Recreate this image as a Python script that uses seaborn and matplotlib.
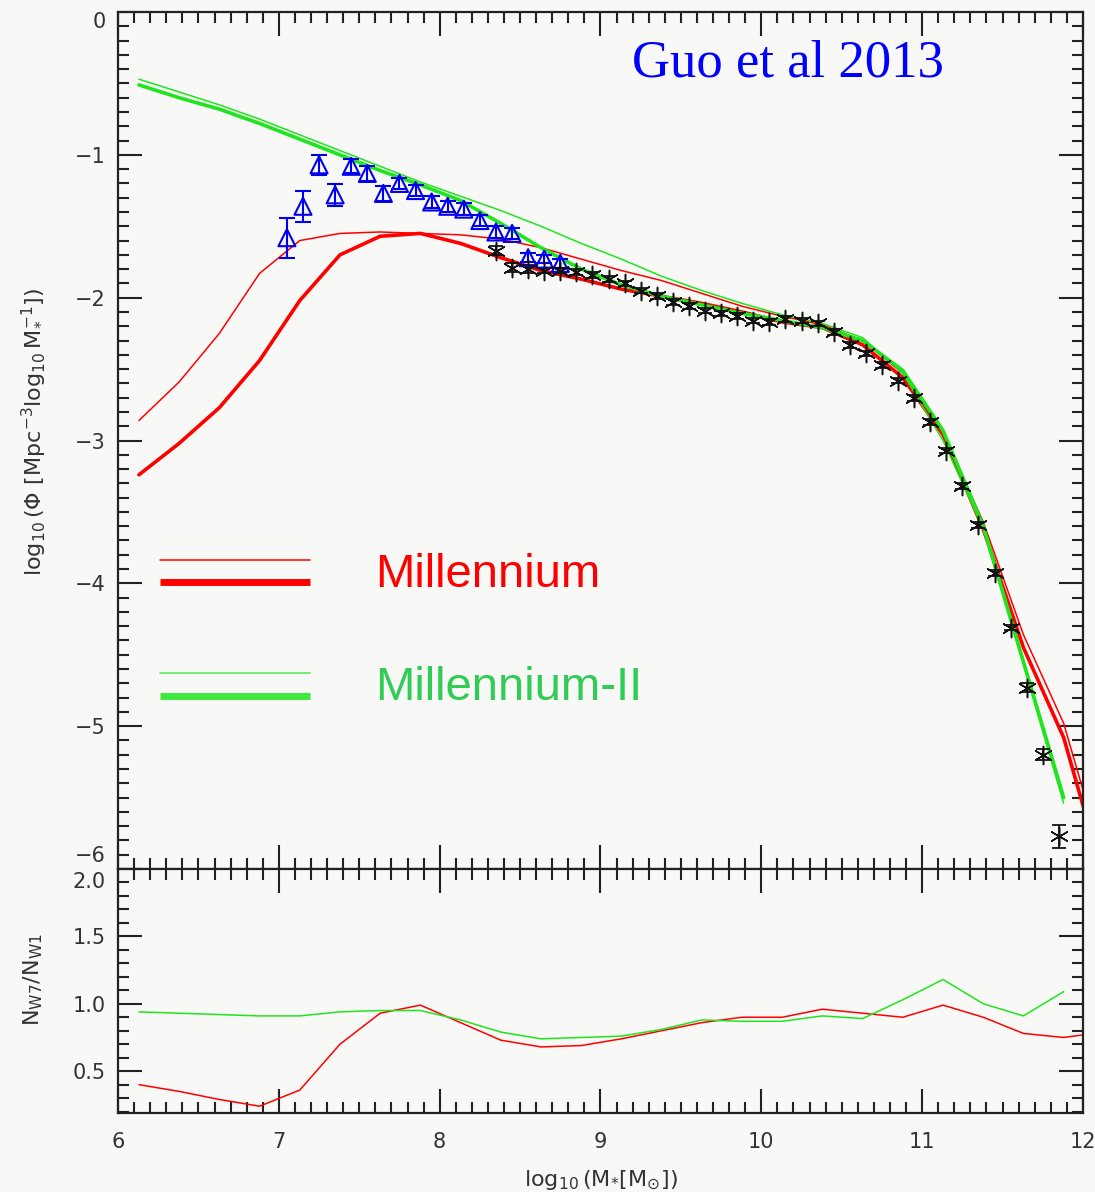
import numpy as np
import pandas as pd
import matplotlib
matplotlib.use('Agg')
import matplotlib.pyplot as plt
import matplotlib.transforms as mtrans
import seaborn as sns
from matplotlib.ticker import MultipleLocator

# model bins (log10 M*)
model_x = [6.13, 6.38, 6.63, 6.88, 7.13, 7.38, 7.63, 7.88, 8.13, 8.38, 8.63, 8.88,
           9.13, 9.38, 9.63, 9.88, 10.13, 10.38, 10.63, 10.88, 11.13, 11.38, 11.63, 11.88]
model_x_red = model_x + [12.13]

# Millennium (red): thin = W1, thick = W7
mr_thin = [-2.86, -2.59, -2.25, -1.83, -1.60, -1.55, -1.54, -1.55, -1.56, -1.59, -1.65, -1.73,
           -1.81, -1.88, -1.97, -2.06, -2.13, -2.19, -2.30, -2.53, -2.95, -3.57, -4.36, -4.98, -5.95]
mr_thick = [-3.24, -3.02, -2.77, -2.44, -2.02, -1.70, -1.57, -1.55, -1.62, -1.72, -1.81, -1.87,
            -1.94, -1.99, -2.04, -2.10, -2.17, -2.21, -2.33, -2.56, -2.96, -3.62, -4.45, -5.08, -6.07]

# Millennium-II (green)
mii_thin = [-0.47, -0.56, -0.65, -0.75, -0.86, -0.97, -1.08, -1.19, -1.29, -1.39, -1.50, -1.62,
            -1.73, -1.85, -1.95, -2.04, -2.12, -2.18, -2.28, -2.53, -3.00, -3.62, -4.57, -5.54]
mii_thick = [-0.51, -0.60, -0.68, -0.78, -0.89, -1.00, -1.11, -1.21, -1.32, -1.48, -1.65, -1.80,
             -1.91, -1.99, -2.05, -2.11, -2.16, -2.21, -2.30, -2.51, -2.93, -3.60, -4.55, -5.50]

# ratio panel N_W7 / N_W1
ratio_red = [0.40, 0.35, 0.29, 0.24, 0.36, 0.70, 0.93, 0.99, 0.86, 0.73, 0.68, 0.69,
             0.74, 0.80, 0.86, 0.90, 0.90, 0.96, 0.93, 0.90, 0.99, 0.90, 0.78, 0.75, 0.79]
ratio_green = [0.94, 0.93, 0.92, 0.91, 0.91, 0.94, 0.95, 0.95, 0.88, 0.79, 0.74, 0.75,
               0.76, 0.81, 0.88, 0.87, 0.87, 0.91, 0.89, 1.03, 1.18, 1.00, 0.91, 1.09]

# observations: blue triangles
tri_x = [7.05, 7.15, 7.25, 7.35, 7.45, 7.55, 7.65, 7.75, 7.85, 7.95, 8.05, 8.15, 8.25, 8.35,
         8.45, 8.55, 8.65, 8.75]
tri_y = [-1.58, -1.36, -1.07, -1.28, -1.08, -1.13, -1.27, -1.20, -1.25, -1.33, -1.36, -1.38,
         -1.46, -1.54, -1.55, -1.72, -1.73, -1.76]
tri_err = [0.14, 0.11, 0.07, 0.075, 0.05, 0.05, 0.05, 0.04, 0.04, 0.04, 0.04, 0.04, 0.04, 0.04,
           0.04, 0.03, 0.03, 0.03]

# observations: black asterisks
ast_x = [8.35, 8.45, 8.55, 8.65, 8.75, 8.85, 8.95, 9.05, 9.15, 9.25, 9.35, 9.45, 9.55, 9.65,
         9.75, 9.85, 9.95, 10.05, 10.15, 10.25, 10.35, 10.45, 10.55, 10.65, 10.75, 10.85,
         10.95, 11.05, 11.15, 11.25, 11.35, 11.45, 11.55, 11.65, 11.75, 11.85]
ast_y = [-1.67, -1.79, -1.80, -1.81, -1.81, -1.82, -1.84, -1.87, -1.90, -1.95, -1.99, -2.03,
         -2.06, -2.09, -2.11, -2.13, -2.16, -2.17, -2.15, -2.16, -2.18, -2.24, -2.33, -2.39,
         -2.47, -2.58, -2.70, -2.87, -3.07, -3.32, -3.59, -3.93, -4.31, -4.73, -5.20, -5.77]
ast_err = [0.03, 0.03, 0.03, 0.02, 0.02, 0.02, 0.02, 0.02, 0.02, 0.02, 0.02, 0.02, 0.02, 0.02,
           0.02, 0.02, 0.02, 0.02, 0.02, 0.02, 0.02, 0.02, 0.02, 0.02, 0.02, 0.02, 0.02, 0.02,
           0.02, 0.02, 0.02, 0.02, 0.02, 0.03, 0.04, 0.08]

main_yticks = [-6, -5, -4, -3, -2, -1, 0]
ratio_yticks = [0.5, 1.0, 1.5, 2.0]
ratio_yticklabels = ['0.5', '1.0', '1.5', '2.0']

RED = '#ff0000'
GREEN = '#1ee51e'
GREEN_TXT = '#30cc55'
BG = '#f8f9f6'
INK = '#333333'

sns.set_style('ticks')
plt.rcParams['font.family'] = ['DejaVu Sans']
plt.rcParams['mathtext.fontset'] = 'dejavusans'

fig = plt.figure(figsize=(10.95, 11.92), dpi=100, facecolor=BG)
ax = fig.add_axes([0.1078, 0.271, 0.8812, 0.7189], facecolor=BG)
axr = fig.add_axes([0.1078, 0.0663, 0.8812, 0.2047], facecolor=BG, sharex=ax)

# main panel curves
sns.lineplot(x=model_x_red, y=mr_thin, ax=ax, color=RED, lw=1.1, sort=False)
sns.lineplot(x=model_x_red, y=mr_thick, ax=ax, color=RED, lw=2.6, sort=False)
sns.lineplot(x=model_x, y=mii_thin, ax=ax, color=GREEN, lw=1.1, sort=False)
sns.lineplot(x=model_x, y=mii_thick, ax=ax, color=GREEN, lw=2.6, sort=False)

# observations
ax.errorbar(tri_x, tri_y, yerr=tri_err, fmt='none', ecolor='#0000ee', elinewidth=1.5,
            capsize=6, capthick=1.5, zorder=4)
sns.scatterplot(x=tri_x, y=tri_y, ax=ax, marker='^', s=150, facecolor='none',
                edgecolor='#0000ee', linewidth=1.5, zorder=5)
ax.errorbar(ast_x, ast_y, yerr=ast_err, fmt='none', ecolor='black', elinewidth=1.2,
            capsize=5, capthick=1.2, zorder=4)
sns.scatterplot(x=ast_x, y=ast_y, ax=ax, marker=(6, 2, 0), s=170, color='#111111',
                linewidth=1.1, zorder=5)

# hand-drawn style legend
ax.plot([0.0435, 0.199], [0.3606, 0.3606], transform=ax.transAxes, color=RED, lw=1.1)
ax.plot([0.0435, 0.199], [0.3349, 0.3349], transform=ax.transAxes, color=RED, lw=5,
        solid_capstyle='butt')
ax.plot([0.0435, 0.199], [0.2287, 0.2287], transform=ax.transAxes, color='#66ee66', lw=1.3)
ax.plot([0.0435, 0.199], [0.2019, 0.2019], transform=ax.transAxes, color='#3ee83e', lw=5,
        solid_capstyle='butt')
ax.text(0.266, 0.343, 'Millennium', transform=ax.transAxes, color=RED, fontsize=34,
        family='Liberation Sans', ha='left', va='center')
ax.text(0.266, 0.211, 'Millennium-II', transform=ax.transAxes, color=GREEN_TXT, fontsize=34,
        family='Liberation Sans', ha='left', va='center')
ax.text(0.533, 0.940, 'Guo et al 2013', transform=ax.transAxes, color='#0000ff', fontsize=38,
        family='Liberation Serif', ha='left', va='center')

# ratio panel
sns.lineplot(x=model_x_red, y=ratio_red, ax=axr, color=RED, lw=1.1, sort=False)
sns.lineplot(x=model_x, y=ratio_green, ax=axr, color=GREEN, lw=1.1, sort=False)

ax.set_xlim(6, 12)
ax.set_ylim(-6, 0)
axr.set_ylim(0.19, 2.0)

for a in (ax, axr):
    a.xaxis.set_major_locator(MultipleLocator(1))
    a.xaxis.set_minor_locator(MultipleLocator(0.1))
    a.yaxis.set_minor_locator(MultipleLocator(0.1))
    a.tick_params(which='both', direction='in', top=True, right=True, color='#222222',
                  labelsize=15, labelcolor=INK, pad=9)
    a.tick_params(which='major', length=17, width=1.5)
    a.tick_params(which='minor', length=8, width=1.5)
    for s in a.spines.values():
        s.set_linewidth(1.6)
        s.set_color('#222222')

ax.set_yticks(main_yticks)
axr.set_yticks(ratio_yticks)
axr.set_yticklabels(ratio_yticklabels)
ax.tick_params(labelbottom=False)
axr.tick_params(axis='x', pad=14)

# keep the edge labels inside their own panel, as in the original
ylabs = ax.get_yticklabels()
ylabs[0].set_va('bottom')
ylabs[0].set_transform(ylabs[0].get_transform() +
                       mtrans.ScaledTranslation(0, 2 / 72, fig.dpi_scale_trans))
ylabs[-1].set_va('top')
rlab = axr.get_yticklabels()[-1]
rlab.set_va('top')
rlab.set_transform(rlab.get_transform() +
                   mtrans.ScaledTranslation(0, -2 / 72, fig.dpi_scale_trans))

ax.set_ylabel(r'$\log_{10}(\Phi\ [\mathrm{Mpc^{-3}\log_{10}M_{*}^{-1}}])$', fontsize=16,
              color=INK)
ax.yaxis.set_label_coords(-0.074, 0.51)
axr.set_ylabel(r'$\mathrm{N_{W7}/N_{W1}}$', fontsize=16, color=INK)
axr.yaxis.set_label_coords(-0.076, 0.545)
axr.set_xlabel(r'$\log_{10}(\mathrm{M_{*}[M_{\odot}]})$', fontsize=16, color=INK)
axr.xaxis.set_label_coords(0.5, -0.225)

fig.savefig('out.png', dpi=100, facecolor=BG)
